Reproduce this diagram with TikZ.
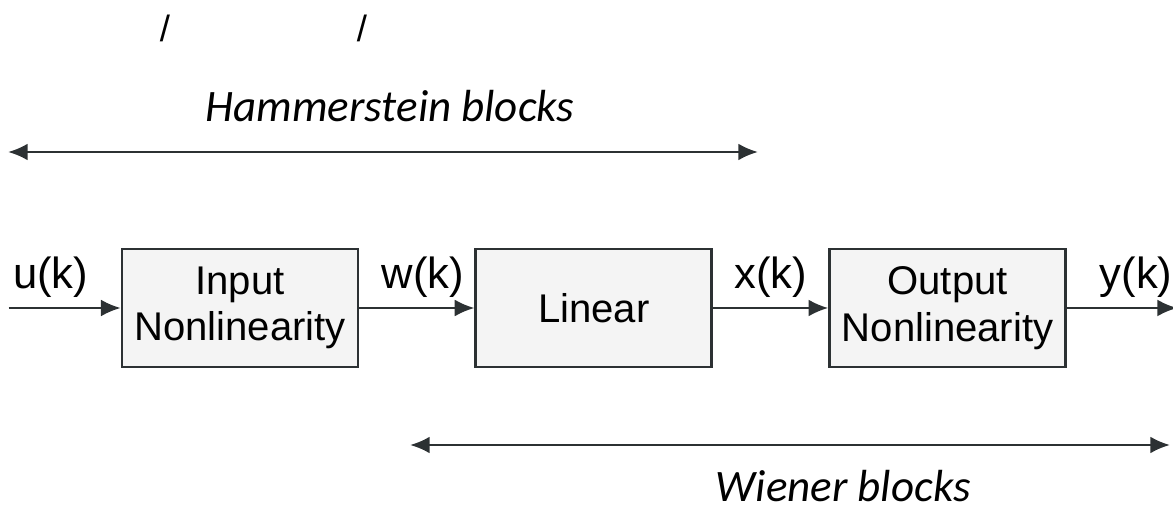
\documentclass[tikz,border=0pt]{standalone}
\usepackage{fontspec}
\setmainfont{Liberation Sans}
\newfontfamily\calibrifont{Carlito}
\usepackage{tikz}
\usetikzlibrary{positioning, arrows.meta}
\usepackage{xcolor}
\definecolor{linegray}{HTML}{2C3133}
\definecolor{boxgray}{HTML}{F4F4F4}

\begin{document}
\begin{tikzpicture}[
  block/.style={draw=linegray, line width=2pt, fill=boxgray,
                minimum width=5.9cm, minimum height=2.95cm, align=center,
                font=\fontsize{28.5}{33}\selectfont, text=black},
  sig/.style={font=\fontsize{31}{34}\selectfont, text=black, inner sep=2pt},
  span/.style={font=\calibrifont\itshape\fontsize{32}{36}\selectfont,
               text=black, inner sep=0pt, anchor=base},
  arrow/.style={-{Latex[length=14pt, width=12pt]}, line width=1.5pt,
                draw=linegray},
  twoway/.style={{Latex[length=14pt, width=12pt]}-{Latex[length=14pt, width=12pt]},
                 line width=1.8pt, draw=linegray},
]
  \useasboundingbox (0,0) rectangle (29.325,12.85);
  % Blocks
  \node[block] (innl) at (6.0,5.15) {Input\\Nonlinearity};
  \node[block, right=2.875cm of innl] (lin) {Linear};
  \node[block, right=2.875cm of lin] (outnl) {Output\\Nonlinearity};
  % Signal ends
  \coordinate[left=2.8cm of innl] (uin);
  \coordinate[right=2.75cm of outnl] (yout);
  % Signals
  \draw[arrow] (uin) -- node[sig, above=5pt, xshift=-0.35cm] {u(k)} (innl);
  \draw[arrow] (innl) -- node[sig, above=5pt, xshift=0.15cm] {w(k)} (lin);
  \draw[arrow] (lin) -- node[sig, above=5pt] {x(k)} (outnl);
  \draw[arrow] (outnl) -- node[sig, above=5pt, xshift=0.35cm] {y(k)} (yout);

  % Hammerstein span
  \coordinate (hleft) at (0.2,9.05);
  \coordinate (hright) at (18.95,9.05);
  \draw[twoway] (hleft) -- (hright);
  \node[span] (hlabel) at (9.75,9.8) {Hammerstein blocks};
  % Wiener span
  \coordinate (wleft) at (10.25,1.725);
  \coordinate (wright) at (29.25,1.725);
  \draw[twoway] (wleft) -- (wright);
  \node[span] (wlabel) at (21.08,0.3) {Wiener blocks};

  % Slashes at top
  \node[font=\fontsize{26}{30}\selectfont] (slasha) at (4.125,12.15) {/};
  \node[font=\fontsize{26}{30}\selectfont] (slashb) at (9.05,12.15) {/};
\end{tikzpicture}
\end{document}
